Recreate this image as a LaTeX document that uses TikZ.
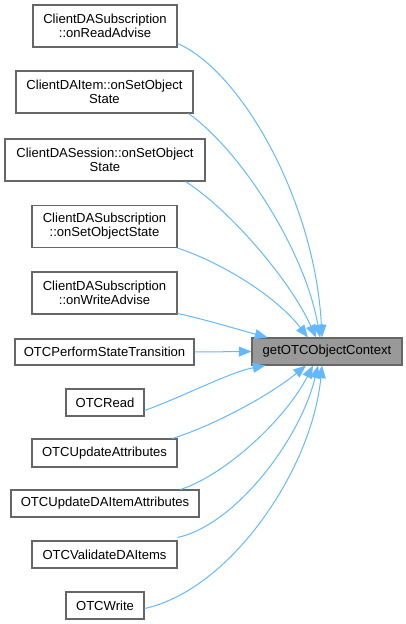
\documentclass[tikz,border=0pt]{standalone}
\usepackage{fontspec}
\setmainfont{Liberation Sans}
\usetikzlibrary{arrows.meta}
\definecolor{edgeblue}{HTML}{63B8FF}
\definecolor{boxborder}{HTML}{666666}
\definecolor{rootfill}{HTML}{999999}
\begin{document}
\begin{tikzpicture}[x=0.75pt,y=-0.75pt,
  box/.style={draw=boxborder,line width=0.8pt,fill=white,inner sep=0pt,align=center,
    font=\fontsize{9.8}{10.5}\selectfont,minimum height=#1*0.75pt},
  box/.default=42,
  rootbox/.style={box=27,fill=rootfill},
  edge/.style={draw=edgeblue,line width=0.75pt,-{Triangle[length=9.5pt,width=7.5pt]}}]
\useasboundingbox (0,0) rectangle (406,624);
\node[box,minimum width=144*0.75pt] (n1) at (105,26) {ClientDASubscription\\::onReadAdvise};
\node[box,minimum width=177*0.75pt] (n2) at (104.5,92) {ClientDAItem::onSetObject\\State};
\node[box,minimum width=200*0.75pt] (n3) at (105,160) {ClientDASession::onSetObject\\State};
\node[box,minimum width=145*0.75pt] (n4) at (104.5,226.5) {ClientDASubscription\\::onSetObjectState};
\node[box,minimum width=145*0.75pt] (n5) at (104.5,293) {ClientDASubscription\\::onWriteAdvise};
\node[box=26,minimum width=179*0.75pt] (n6) at (104.5,352) {OTCPerformStateTransition};
\node[box=27,minimum width=78*0.75pt] (n7) at (105,402.5) {OTCRead};
\node[box=28,minimum width=145*0.75pt] (n8) at (104.5,453) {OTCUpdateAttributes};
\node[box=27,minimum width=188*0.75pt] (n9) at (105,503.5) {OTCUpdateDAItemAttributes};
\node[box=27,minimum width=145*0.75pt] (n10) at (104.5,554.5) {OTCValidateDAItems};
\node[box=27,minimum width=78*0.75pt] (n11) at (105,605.5) {OTCWrite};
\node[rootbox,minimum width=150*0.75pt] (root) at (327,351.5) {getOTCObjectContext};
% end points on the root
\coordinate (t1) at ([xshift=-5*0.75pt]root.north);
\coordinate (t2) at ([xshift=-7*0.75pt]root.north);
\coordinate (t3) at ([xshift=-11*0.75pt]root.north);
\coordinate (t4) at ([xshift=-19*0.75pt]root.north);
\coordinate (t5) at ([xshift=16*0.75pt]root.north west);
\coordinate (t7) at ([xshift=14*0.75pt]root.south west);
\coordinate (t8) at ([xshift=-21*0.75pt]root.south);
\coordinate (t9) at ([xshift=-14*0.75pt]root.south);
\coordinate (t10) at ([xshift=-9*0.75pt]root.south);
\coordinate (t11) at ([xshift=-5*0.75pt]root.south);
\path[edge] ([yshift=4*0.75pt]n1.south east) .. controls (240,70) and (315,200) .. (t1);
\path[edge] ([xshift=-5*0.75pt]n2.south east) .. controls (240,150) and (305,250) .. (t2);
\path[edge] ([xshift=-20*0.75pt]n3.south east) .. controls (230,210) and (290,280) .. (t3);
\path[edge] (n4.south east) .. controls (220,262) and (275,295) .. (t4);
\path[edge] ([yshift=1*0.75pt]n5.south east) .. controls (200,318) and (240,330) .. (t5);
\path[edge] (n6.east) -- (root.west);
\path[edge] ([yshift=-8*0.75pt]n7.east) .. controls (180,398) and (230,372) .. (t7);
\path[edge] ([xshift=-5*0.75pt]n8.north east) .. controls (215,425) and (270,395) .. (t8);
\path[edge] ([xshift=-19*0.75pt]n9.north east) .. controls (225,475) and (285,420) .. (t9);
\path[edge] ([yshift=3*0.75pt]n10.north east) .. controls (235,525) and (300,440) .. (t10);
\path[edge] ([yshift=-3*0.75pt]n11.east) .. controls (230,590) and (312,470) .. (t11);
\end{tikzpicture}
\end{document}
